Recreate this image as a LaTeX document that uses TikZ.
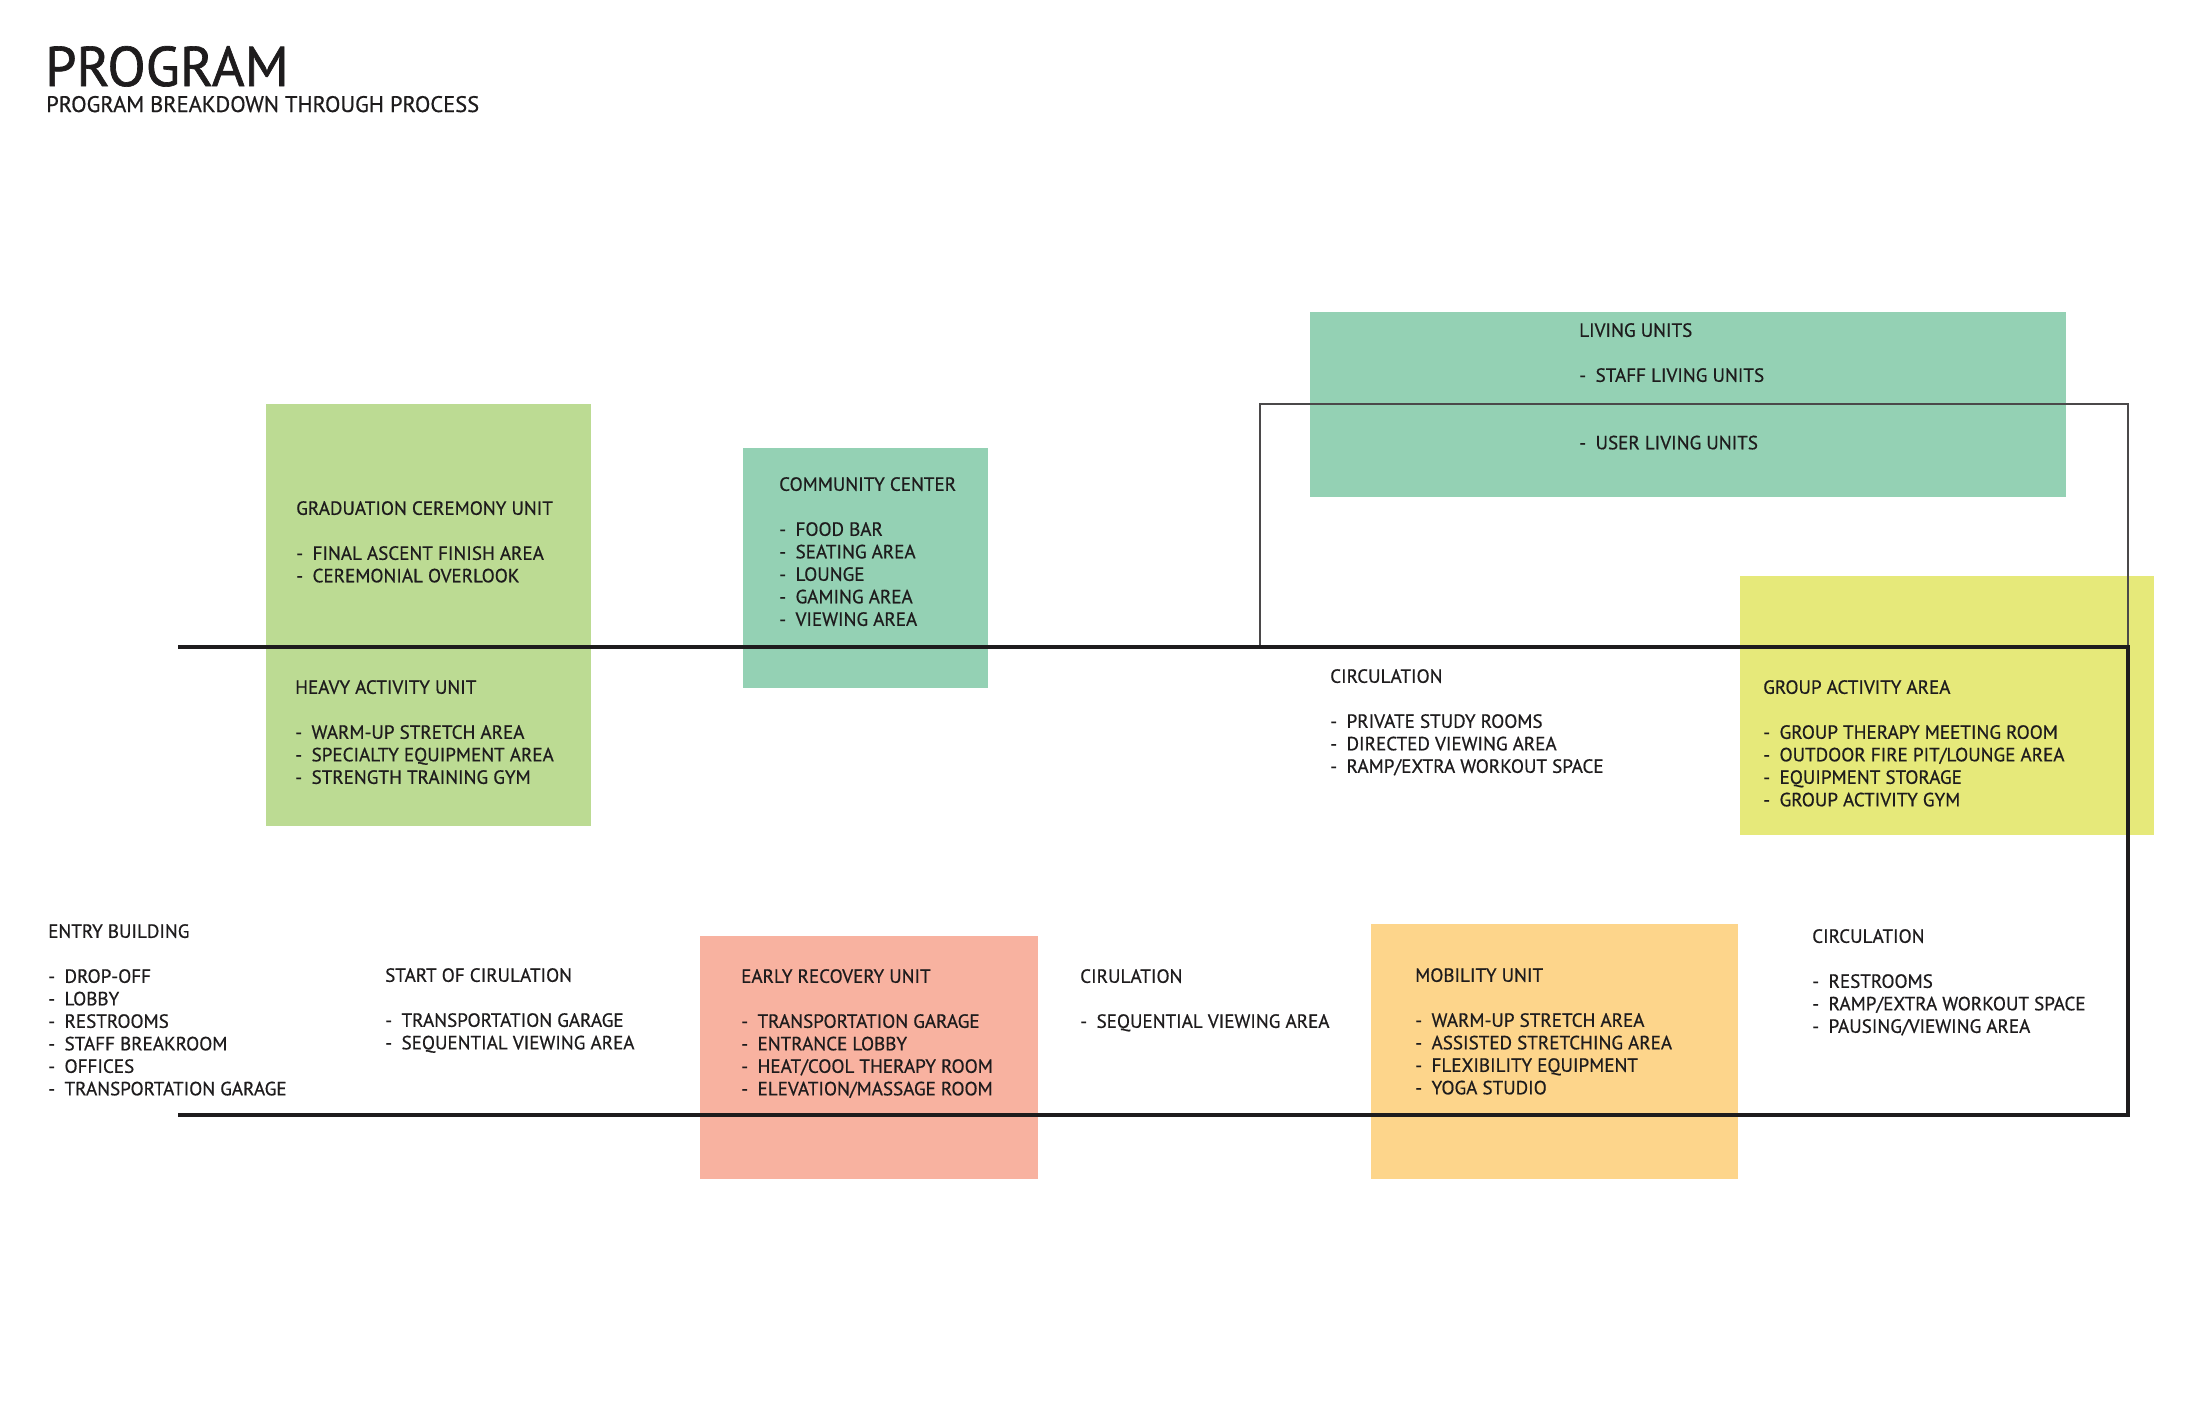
\documentclass[tikz,border=0pt]{standalone}
\usepackage{fontspec}
\setmainfont{PT Sans}
\newfontfamily\bodyfont{PT Sans}[FakeBold=0.6]
\newfontfamily\titlefont{PT Sans}[FakeBold=1.2]
\definecolor{ink}{HTML}{1E1C1D}
\definecolor{cgrad}{HTML}{BCDB93}
\definecolor{cteal}{HTML}{94D1B4}
\definecolor{cyel}{HTML}{E6E97A}
\definecolor{csal}{HTML}{F8B2A0}
\definecolor{corg}{HTML}{FDD58B}
\newcommand\dsh{-\hspace{9.5pt}}
\begin{document}
\begin{tikzpicture}[x=1pt,y=-1pt,
  blk/.style={anchor=north west, inner sep=0pt, align=left, text=ink,
    font=\bodyfont\fontsize{19.1}{22.5}\selectfont},
  thick line/.style={draw=ink, line width=4pt},
  thin line/.style={draw=ink!80, line width=1.3pt}]
\useasboundingbox[fill=white] (0,0) rectangle (2200,1424);

% title
\node[anchor=base west, inner sep=0pt, text depth=0pt, text=ink, font=\titlefont\fontsize{56}{62}\selectfont] (title) at (45,86) {PROGRAM};
\node[anchor=base west, inner sep=0pt, text depth=0pt, text=ink, font=\bodyfont\fontsize{22.5}{26}\selectfont] (subtitle) at (46,112) {PROGRAM BREAKDOWN THROUGH PROCESS};

% coloured boxes
\fill[cgrad] (266,404) rectangle (591,826);
\coordinate (gradbox) at (266,404);
\fill[cteal] (743,448) rectangle (988,688);
\coordinate (commbox) at (743,448);
\fill[cteal] (1310,312) rectangle (2066,497);
\coordinate (livbox) at (1310,312);
\fill[cyel] (1740,576) rectangle (2154,835);
\coordinate (groupbox) at (1740,576);
\fill[csal] (700,936) rectangle (1038,1179);
\coordinate (earlybox) at (700,936);
\fill[corg] (1371,924) rectangle (1738,1179);
\coordinate (mobbox) at (1371,924);

% lines
\coordinate (u1) at (1260,647);
\coordinate (u2) at (1260,404);
\coordinate (u3) at (2128,404);
\coordinate (u4) at (2128,647);
\draw[thin line] (u1) -- (u2) -- (u3) -- (u4);
\coordinate (t1) at (178,647);
\coordinate (t2) at (2128,647);
\coordinate (t3) at (2128,1115);
\coordinate (t4) at (178,1115);
\draw[thick line, line join=miter] (t1) -- (t2) -- (t3) -- (t4);

% text blocks (y = cap top of heading)
\node[blk] (grad) at (296,501) {GRADUATION CEREMONY UNIT\\[22.5pt]\dsh FINAL ASCENT FINISH AREA\\\dsh CEREMONIAL OVERLOOK};
\node[blk] (heavy) at (295,680) {HEAVY ACTIVITY UNIT\\[22.5pt]\dsh WARM-UP STRETCH AREA\\\dsh SPECIALTY EQUIPMENT AREA\\\dsh STRENGTH TRAINING GYM};
\node[blk] (comm) at (779,477) {COMMUNITY CENTER\\[22.5pt]\dsh FOOD BAR\\\dsh SEATING AREA\\\dsh LOUNGE\\\dsh GAMING AREA\\\dsh VIEWING AREA};
\node[blk] (living) at (1579,323) {LIVING UNITS\\[22.5pt]\dsh STAFF LIVING UNITS\\[45pt]\dsh USER LIVING UNITS};
\node[blk] (circa) at (1330,669) {CIRCULATION\\[22.5pt]\dsh PRIVATE STUDY ROOMS\\\dsh DIRECTED VIEWING AREA\\\dsh RAMP/EXTRA WORKOUT SPACE};
\node[blk] (group) at (1763,680) {GROUP ACTIVITY AREA\\[22.5pt]\dsh GROUP THERAPY MEETING ROOM\\\dsh OUTDOOR FIRE PIT/LOUNGE AREA\\\dsh EQUIPMENT STORAGE\\\dsh GROUP ACTIVITY GYM};
\node[blk] (entry) at (48,924) {ENTRY BUILDING\\[22.5pt]\dsh DROP-OFF\\\dsh LOBBY\\\dsh RESTROOMS\\\dsh STAFF BREAKROOM\\\dsh OFFICES\\\dsh TRANSPORTATION GARAGE};
\node[blk] (start) at (385,968) {START OF CIRULATION\\[22.5pt]\dsh TRANSPORTATION GARAGE\\\dsh SEQUENTIAL VIEWING AREA};
\node[blk] (early) at (741,969) {EARLY RECOVERY UNIT\\[22.5pt]\dsh TRANSPORTATION GARAGE\\\dsh ENTRANCE LOBBY\\\dsh HEAT/COOL THERAPY ROOM\\\dsh ELEVATION/MASSAGE ROOM};
\node[blk] (circb) at (1080,969) {CIRULATION\\[22.5pt]\dsh SEQUENTIAL VIEWING AREA};
\node[blk] (mobility) at (1415,968) {MOBILITY UNIT\\[22.5pt]\dsh WARM-UP STRETCH AREA\\\dsh ASSISTED STRETCHING AREA\\\dsh FLEXIBILITY EQUIPMENT\\\dsh YOGA STUDIO};
\node[blk] (circc) at (1812,929) {CIRCULATION\\[22.5pt]\dsh RESTROOMS\\\dsh RAMP/EXTRA WORKOUT SPACE\\\dsh PAUSING/VIEWING AREA};
\end{tikzpicture}
\end{document}
